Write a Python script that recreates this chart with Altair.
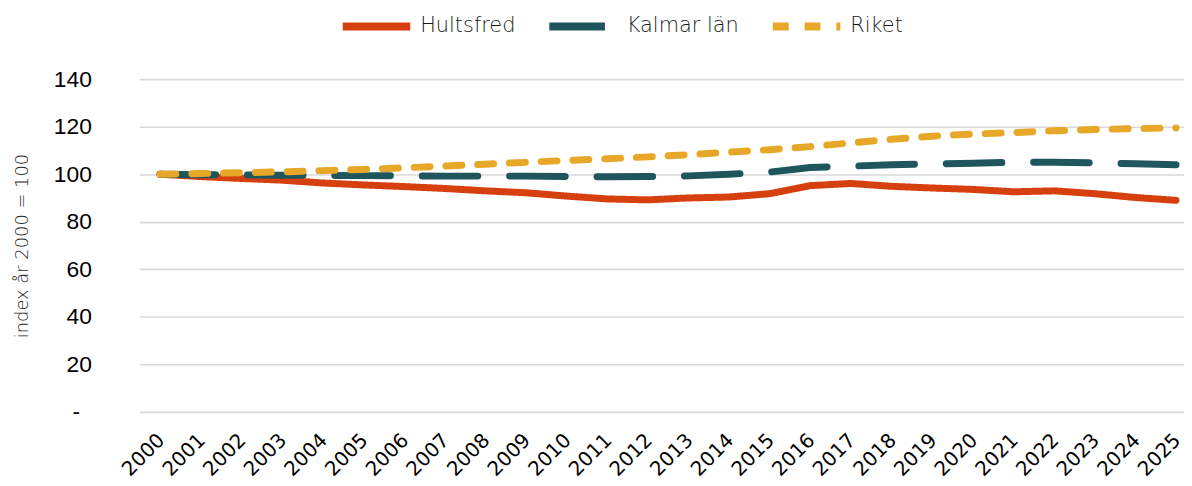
import altair as alt
import pandas as pd

years = list(range(2000, 2026))
series_names = ["Hultsfred", "Kalmar län", "Riket"]
hultsfred = [100, 99.0, 98.2, 97.5, 96.3, 95.5, 94.8, 94.0, 93.0, 92.2, 90.8, 89.6, 89.2,
             90.0, 90.4, 91.8, 95.2, 96.1, 94.9, 94.2, 93.6, 92.6, 93.0, 91.8, 90.2, 89.0]
kalmar = [100, 99.8, 99.7, 99.6, 99.5, 99.4, 99.3, 99.2, 99.2, 99.2, 99.0, 98.9, 99.0,
          99.3, 100.0, 100.9, 102.8, 103.4, 104.0, 104.3, 104.6, 105.0, 105.0, 104.8, 104.4, 104.0]
riket = [100, 100.3, 100.6, 101.0, 101.5, 102.0, 102.7, 103.4, 104.2, 105.0, 105.8, 106.5, 107.3,
         108.2, 109.3, 110.3, 111.6, 113.2, 114.7, 116.0, 116.9, 117.5, 118.3, 118.8, 119.2, 119.5]
y_ticks = [0, 20, 40, 60, 80, 100, 120, 140]
colors = ["#D6400F", "#1F565E", "#E7A82A"]
dashes = [[1, 0], [56, 32], [16, 16]]

rows = []
for name, vals in zip(series_names, [hultsfred, kalmar, riket]):
    for y, v in zip(years, vals):
        rows.append({"year": y, "series": name, "value": v})
df = pd.DataFrame(rows)

legend_props = dict(title=None, orient="none", legendX=201, legendY=-91,
                    direction="horizontal", symbolType="stroke",
                    symbolSize=4624, symbolStrokeWidth=8,
                    labelFont="DejaVu Sans", labelFontWeight=200, labelFontSize=21,
                    labelColor="#1a1a1a", labelOffset=6, columnPadding=18,
                    padding=0)

lines = alt.Chart(df).mark_line(strokeWidth=7, strokeCap="round", strokeJoin="round").encode(
    x=alt.X("year:Q",
            scale=alt.Scale(domain=[1999.486, 2025.196], nice=False, zero=False),
            axis=alt.Axis(values=years, labelExpr="datum.value + ''", title=None,
                          grid=False, domain=False, ticks=False,
                          labelAngle=-45, labelAlign="right", labelBaseline="top",
                          labelFont="DejaVu Sans", labelFontSize=20, labelColor="#000000",
                          labelPadding=18, labelOffset=-6, labelOverlap=False, labelFlush=False)),
    y=alt.Y("value:Q",
            scale=alt.Scale(domain=[0, 140], nice=False),
            axis=alt.Axis(values=y_ticks,
                          labelExpr="datum.value == 0 ? '-' : datum.label",
                          title="index år 2000 = 100", titleFont="DejaVu Sans", titleFontWeight=200,
                          titleFontSize=18, titleColor="#262626", titlePadding=22,
                          domain=False, ticks=False, gridColor="#D9D9D9", gridWidth=1.6,
                          labelFont="Liberation Sans", labelFontSize=23, labelColor="#000000",
                          labelPadding={"condition": {"test": "datum.value == 0", "value": 60},
                                        "value": 48})),
    color=alt.Color("series:N",
                    scale=alt.Scale(domain=series_names, range=colors),
                    legend=alt.Legend(**legend_props)),
    strokeDash=alt.StrokeDash("series:N",
                              scale=alt.Scale(domain=series_names, range=dashes),
                              legend=alt.Legend(**legend_props)),
    detail="series:N",
)

chart = lines.properties(
    width=1052, height=335,
    autosize=alt.AutoSizeParams(type="none"),
    padding={"left": 132, "top": 70, "right": 0, "bottom": 73},
).configure_view(stroke=None)

chart.save("out.html", embed_options={"renderer": "svg", "actions": False})
